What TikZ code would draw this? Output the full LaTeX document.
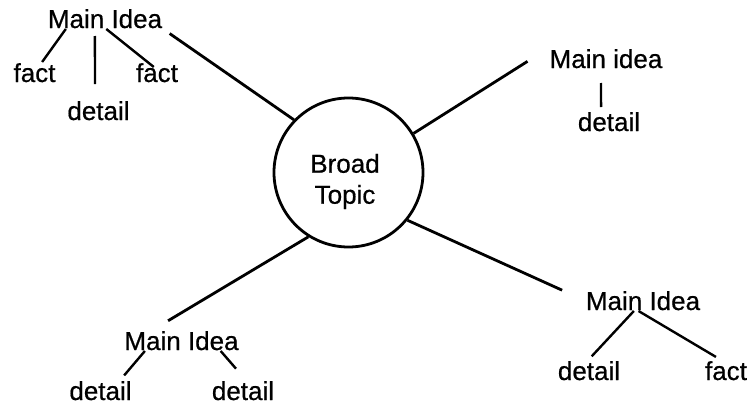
\documentclass[tikz,border=0pt]{standalone}
\usepackage{fontspec}
\setmainfont{Liberation Sans}[FakeBold=0.6]

\begin{document}
\begin{tikzpicture}[%
		x=1pt, y=-1pt,
		every node/.style={
			font=\fontsize{26}{31}\selectfont
		},
		idea/.style={
			rectangle,
			inner sep=1pt,
			outer sep=0pt,
			text height=19pt,
			text depth=0pt
		},
		topic/.style={
			circle,
			minimum size=149pt,
			inner sep=0pt,
			line width=2.8pt,
			black,
			draw
		},
		link/.style={
			line width=2.8pt
		},
		twig/.style={
			line width=2.4pt
		}]

		\useasboundingbox (0,0) rectangle (750,407);

		% BROAD TOPIC

		\node (topic) [topic] at (348.5,172.5) {};
		\node (topic-text) [align=center, inner sep=0pt] at (345,181.5) {Broad\\Topic};

		% MAIN IDEAS

		\node (main-I) [idea] at (105,18.5) {Main Idea};
		\node (main-II) [idea] at (606,58.5) {Main idea};
		\node (main-III) [idea] at (181.5,340.5) {Main Idea};
		\node (main-IV) [idea] at (643,300.5) {Main Idea};

		% FACTS AND DETAILS

		\node (fact1-I) [idea] at (34.5,72.5) {fact};
		\node (detail-I) [idea] at (98.5,110.5) {detail};
		\node (fact2-I) [idea] at (157,72.5) {fact};

		\node (detail-II) [idea] at (609,121.5) {detail};

		\node (detail1-III) [idea] at (100.5,390.5) {detail};
		\node (detail2-III) [idea] at (243,390.5) {detail};

		\node (detail-IV) [idea] at (589,370.5) {detail};
		\node (fact-IV) [idea] at (726,370.5) {fact};

		% TOPIC LINES

		\draw[link, shorten <=8pt] (main-I.south east) -- (topic.136);
		\draw[link, shorten >=25pt] (topic.31) -- (main-II.north west);
		\draw[link, shorten >=18pt] (topic.238) -- (main-III.160);
		\draw[link, shorten >=25pt] (topic.-39) -- (main-IV.west);

		% DETAIL LINES

		\draw[twig] (main-I.195) -- (fact1-I.54);
		\draw[twig, shorten <=7pt, shorten >=16pt] (main-I.226) -- (detail-I.108);
		\draw[twig, shorten >=-8pt] (main-I.277) -- (fact2-I.132);

		\draw[twig, shorten <=14pt, shorten >=4pt] (main-II.244) -- (detail-II.127);

		\draw[twig, shorten >=6pt] (main-III.196) -- (detail1-III.28);
		\draw[twig, shorten >=15pt] (main-III.345) -- (detail2-III.75);

		\draw[twig, shorten >=5pt] (main-IV.229) -- (detail-IV.94);
		\draw[twig, shorten >=6pt] (main-IV.247) -- (fact-IV.115);
\end{tikzpicture}
\end{document}
